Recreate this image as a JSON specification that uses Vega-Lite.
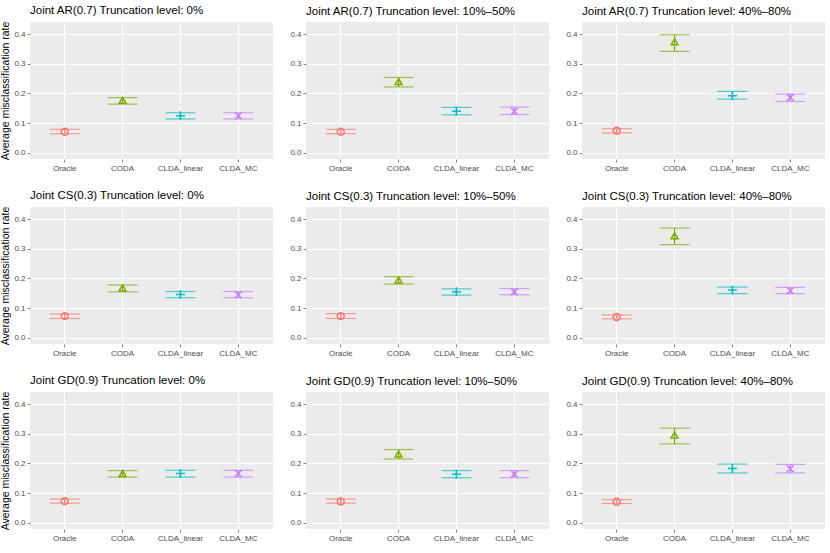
{
  "$schema": "https://vega.github.io/schema/vega-lite/v6.json",
  "description": "Average misclassification rate by method, covariance structure and truncation level.",
  "background": "white",
  "padding": {"left": 0, "top": 4, "right": 4, "bottom": 2},
  "data": {
    "values": [
      {"structure": "AR", "trunc": "0%", "panel": "Joint AR(0.7) Truncation level: 0%", "method": "Oracle", "mean": 0.071, "lo": 0.064, "hi": 0.079},
      {"structure": "AR", "trunc": "0%", "panel": "Joint AR(0.7) Truncation level: 0%", "method": "CODA", "mean": 0.177, "lo": 0.164, "hi": 0.186},
      {"structure": "AR", "trunc": "0%", "panel": "Joint AR(0.7) Truncation level: 0%", "method": "CLDA_linear", "mean": 0.125, "lo": 0.114, "hi": 0.135},
      {"structure": "AR", "trunc": "0%", "panel": "Joint AR(0.7) Truncation level: 0%", "method": "CLDA_MC", "mean": 0.125, "lo": 0.114, "hi": 0.135},
      {"structure": "AR", "trunc": "10%–50%", "panel": "Joint AR(0.7) Truncation level: 10%–50%", "method": "Oracle", "mean": 0.071, "lo": 0.064, "hi": 0.079},
      {"structure": "AR", "trunc": "10%–50%", "panel": "Joint AR(0.7) Truncation level: 10%–50%", "method": "CODA", "mean": 0.240, "lo": 0.222, "hi": 0.254},
      {"structure": "AR", "trunc": "10%–50%", "panel": "Joint AR(0.7) Truncation level: 10%–50%", "method": "CLDA_linear", "mean": 0.140, "lo": 0.128, "hi": 0.153},
      {"structure": "AR", "trunc": "10%–50%", "panel": "Joint AR(0.7) Truncation level: 10%–50%", "method": "CLDA_MC", "mean": 0.140, "lo": 0.129, "hi": 0.154},
      {"structure": "AR", "trunc": "40%–80%", "panel": "Joint AR(0.7) Truncation level: 40%–80%", "method": "Oracle", "mean": 0.074, "lo": 0.067, "hi": 0.081},
      {"structure": "AR", "trunc": "40%–80%", "panel": "Joint AR(0.7) Truncation level: 40%–80%", "method": "CODA", "mean": 0.374, "lo": 0.342, "hi": 0.398},
      {"structure": "AR", "trunc": "40%–80%", "panel": "Joint AR(0.7) Truncation level: 40%–80%", "method": "CLDA_linear", "mean": 0.192, "lo": 0.181, "hi": 0.207},
      {"structure": "AR", "trunc": "40%–80%", "panel": "Joint AR(0.7) Truncation level: 40%–80%", "method": "CLDA_MC", "mean": 0.186, "lo": 0.173, "hi": 0.198},
      {"structure": "CS", "trunc": "0%", "panel": "Joint CS(0.3) Truncation level: 0%", "method": "Oracle", "mean": 0.073, "lo": 0.065, "hi": 0.080},
      {"structure": "CS", "trunc": "0%", "panel": "Joint CS(0.3) Truncation level: 0%", "method": "CODA", "mean": 0.168, "lo": 0.155, "hi": 0.178},
      {"structure": "CS", "trunc": "0%", "panel": "Joint CS(0.3) Truncation level: 0%", "method": "CLDA_linear", "mean": 0.146, "lo": 0.135, "hi": 0.156},
      {"structure": "CS", "trunc": "0%", "panel": "Joint CS(0.3) Truncation level: 0%", "method": "CLDA_MC", "mean": 0.145, "lo": 0.135, "hi": 0.156},
      {"structure": "CS", "trunc": "10%–50%", "panel": "Joint CS(0.3) Truncation level: 10%–50%", "method": "Oracle", "mean": 0.073, "lo": 0.065, "hi": 0.081},
      {"structure": "CS", "trunc": "10%–50%", "panel": "Joint CS(0.3) Truncation level: 10%–50%", "method": "CODA", "mean": 0.195, "lo": 0.181, "hi": 0.206},
      {"structure": "CS", "trunc": "10%–50%", "panel": "Joint CS(0.3) Truncation level: 10%–50%", "method": "CLDA_linear", "mean": 0.155, "lo": 0.144, "hi": 0.165},
      {"structure": "CS", "trunc": "10%–50%", "panel": "Joint CS(0.3) Truncation level: 10%–50%", "method": "CLDA_MC", "mean": 0.155, "lo": 0.145, "hi": 0.166},
      {"structure": "CS", "trunc": "40%–80%", "panel": "Joint CS(0.3) Truncation level: 40%–80%", "method": "Oracle", "mean": 0.070, "lo": 0.064, "hi": 0.077},
      {"structure": "CS", "trunc": "40%–80%", "panel": "Joint CS(0.3) Truncation level: 40%–80%", "method": "CODA", "mean": 0.344, "lo": 0.314, "hi": 0.370},
      {"structure": "CS", "trunc": "40%–80%", "panel": "Joint CS(0.3) Truncation level: 40%–80%", "method": "CLDA_linear", "mean": 0.161, "lo": 0.149, "hi": 0.171},
      {"structure": "CS", "trunc": "40%–80%", "panel": "Joint CS(0.3) Truncation level: 40%–80%", "method": "CLDA_MC", "mean": 0.159, "lo": 0.149, "hi": 0.170},
      {"structure": "GD", "trunc": "0%", "panel": "Joint GD(0.9) Truncation level: 0%", "method": "Oracle", "mean": 0.073, "lo": 0.066, "hi": 0.080},
      {"structure": "GD", "trunc": "0%", "panel": "Joint GD(0.9) Truncation level: 0%", "method": "CODA", "mean": 0.166, "lo": 0.154, "hi": 0.176},
      {"structure": "GD", "trunc": "0%", "panel": "Joint GD(0.9) Truncation level: 0%", "method": "CLDA_linear", "mean": 0.166, "lo": 0.154, "hi": 0.177},
      {"structure": "GD", "trunc": "0%", "panel": "Joint GD(0.9) Truncation level: 0%", "method": "CLDA_MC", "mean": 0.166, "lo": 0.154, "hi": 0.177},
      {"structure": "GD", "trunc": "10%–50%", "panel": "Joint GD(0.9) Truncation level: 10%–50%", "method": "Oracle", "mean": 0.072, "lo": 0.066, "hi": 0.080},
      {"structure": "GD", "trunc": "10%–50%", "panel": "Joint GD(0.9) Truncation level: 10%–50%", "method": "CODA", "mean": 0.232, "lo": 0.215, "hi": 0.247},
      {"structure": "GD", "trunc": "10%–50%", "panel": "Joint GD(0.9) Truncation level: 10%–50%", "method": "CLDA_linear", "mean": 0.164, "lo": 0.152, "hi": 0.176},
      {"structure": "GD", "trunc": "10%–50%", "panel": "Joint GD(0.9) Truncation level: 10%–50%", "method": "CLDA_MC", "mean": 0.164, "lo": 0.152, "hi": 0.176},
      {"structure": "GD", "trunc": "40%–80%", "panel": "Joint GD(0.9) Truncation level: 40%–80%", "method": "Oracle", "mean": 0.071, "lo": 0.065, "hi": 0.078},
      {"structure": "GD", "trunc": "40%–80%", "panel": "Joint GD(0.9) Truncation level: 40%–80%", "method": "CODA", "mean": 0.296, "lo": 0.266, "hi": 0.319},
      {"structure": "GD", "trunc": "40%–80%", "panel": "Joint GD(0.9) Truncation level: 40%–80%", "method": "CLDA_linear", "mean": 0.183, "lo": 0.168, "hi": 0.198},
      {"structure": "GD", "trunc": "40%–80%", "panel": "Joint GD(0.9) Truncation level: 40%–80%", "method": "CLDA_MC", "mean": 0.182, "lo": 0.168, "hi": 0.197}
    ]
  },
  "spacing": 16,
  "hconcat": [
    {
      "transform": [{"filter": "datum.trunc === '0%'"}],
      "facet": {"field": "panel", "type": "nominal", "title": null},
      "columns": 1,
      "bounds": "flush",
      "spacing": 48,
      "resolve": {"axis": {"x": "independent", "y": "independent"}},
      "spec": {
        "width": 243,
        "height": 137,
        "encoding": {
          "x": {"field": "method", "type": "nominal", "sort": ["Oracle", "CODA", "CLDA_linear", "CLDA_MC"], "scale": {"paddingInner": 0, "paddingOuter": 0.1}, "title": null},
          "color": {"field": "method", "type": "nominal", "scale": {"domain": ["Oracle", "CODA", "CLDA_linear", "CLDA_MC"], "range": ["#F8766D", "#7CAE00", "#00BFC4", "#C77CFF"]}, "legend": null}
        },
        "layer": [
          {
            "mark": {"type": "rule", "strokeWidth": 1.2},
            "encoding": {
              "y": {"field": "lo", "type": "quantitative", "scale": {"domain": [-0.021, 0.441], "nice": false, "zero": false}, "title": "Average misclassification rate"},
              "y2": {"field": "hi"}
            }
          },
          {
            "mark": {"type": "tick", "size": 30, "thickness": 1.2},
            "encoding": {"y": {"field": "lo", "type": "quantitative", "title": "Average misclassification rate"}}
          },
          {
            "mark": {"type": "tick", "size": 30, "thickness": 1.2},
            "encoding": {"y": {"field": "hi", "type": "quantitative", "title": "Average misclassification rate"}}
          },
          {
            "mark": {"type": "point", "filled": false, "size": 48, "strokeWidth": 1.5, "opacity": 1},
            "encoding": {
              "y": {"field": "mean", "type": "quantitative", "title": "Average misclassification rate"},
              "shape": {"field": "method", "type": "nominal", "scale": {"domain": ["Oracle", "CODA", "CLDA_linear", "CLDA_MC"], "range": ["circle", "triangle-up", "M-1.3,0L1.3,0M0,-1.3L0,1.3", "M-1,-1L1,1M-1,1L1,-1"]}, "legend": null}
            }
          }
        ]
      }
    },
    {
      "transform": [{"filter": "datum.trunc === '10%–50%'"}],
      "facet": {"field": "panel", "type": "nominal", "title": null},
      "columns": 1,
      "bounds": "flush",
      "spacing": 48,
      "resolve": {"axis": {"x": "independent", "y": "independent"}},
      "spec": {
        "width": 243,
        "height": 137,
        "encoding": {
          "x": {"field": "method", "type": "nominal", "sort": ["Oracle", "CODA", "CLDA_linear", "CLDA_MC"], "scale": {"paddingInner": 0, "paddingOuter": 0.1}, "title": null},
          "color": {"field": "method", "type": "nominal", "scale": {"domain": ["Oracle", "CODA", "CLDA_linear", "CLDA_MC"], "range": ["#F8766D", "#7CAE00", "#00BFC4", "#C77CFF"]}, "legend": null}
        },
        "layer": [
          {
            "mark": {"type": "rule", "strokeWidth": 1.2},
            "encoding": {
              "y": {"field": "lo", "type": "quantitative", "scale": {"domain": [-0.021, 0.441], "nice": false, "zero": false}, "title": null},
              "y2": {"field": "hi"}
            }
          },
          {
            "mark": {"type": "tick", "size": 30, "thickness": 1.2},
            "encoding": {"y": {"field": "lo", "type": "quantitative", "title": null}}
          },
          {
            "mark": {"type": "tick", "size": 30, "thickness": 1.2},
            "encoding": {"y": {"field": "hi", "type": "quantitative", "title": null}}
          },
          {
            "mark": {"type": "point", "filled": false, "size": 48, "strokeWidth": 1.5, "opacity": 1},
            "encoding": {
              "y": {"field": "mean", "type": "quantitative", "title": null},
              "shape": {"field": "method", "type": "nominal", "scale": {"domain": ["Oracle", "CODA", "CLDA_linear", "CLDA_MC"], "range": ["circle", "triangle-up", "M-1.3,0L1.3,0M0,-1.3L0,1.3", "M-1,-1L1,1M-1,1L1,-1"]}, "legend": null}
            }
          }
        ]
      }
    },
    {
      "transform": [{"filter": "datum.trunc === '40%–80%'"}],
      "facet": {"field": "panel", "type": "nominal", "title": null},
      "columns": 1,
      "bounds": "flush",
      "spacing": 48,
      "resolve": {"axis": {"x": "independent", "y": "independent"}},
      "spec": {
        "width": 243,
        "height": 137,
        "encoding": {
          "x": {"field": "method", "type": "nominal", "sort": ["Oracle", "CODA", "CLDA_linear", "CLDA_MC"], "scale": {"paddingInner": 0, "paddingOuter": 0.1}, "title": null},
          "color": {"field": "method", "type": "nominal", "scale": {"domain": ["Oracle", "CODA", "CLDA_linear", "CLDA_MC"], "range": ["#F8766D", "#7CAE00", "#00BFC4", "#C77CFF"]}, "legend": null}
        },
        "layer": [
          {
            "mark": {"type": "rule", "strokeWidth": 1.2},
            "encoding": {
              "y": {"field": "lo", "type": "quantitative", "scale": {"domain": [-0.021, 0.441], "nice": false, "zero": false}, "title": null},
              "y2": {"field": "hi"}
            }
          },
          {
            "mark": {"type": "tick", "size": 30, "thickness": 1.2},
            "encoding": {"y": {"field": "lo", "type": "quantitative", "title": null}}
          },
          {
            "mark": {"type": "tick", "size": 30, "thickness": 1.2},
            "encoding": {"y": {"field": "hi", "type": "quantitative", "title": null}}
          },
          {
            "mark": {"type": "point", "filled": false, "size": 48, "strokeWidth": 1.5, "opacity": 1},
            "encoding": {
              "y": {"field": "mean", "type": "quantitative", "title": null},
              "shape": {"field": "method", "type": "nominal", "scale": {"domain": ["Oracle", "CODA", "CLDA_linear", "CLDA_MC"], "range": ["circle", "triangle-up", "M-1.3,0L1.3,0M0,-1.3L0,1.3", "M-1,-1L1,1M-1,1L1,-1"]}, "legend": null}
            }
          }
        ]
      }
    }
  ],
  "config": {
    "font": "Liberation Sans",
    "view": {"fill": "#EBEBEB", "stroke": null},
    "header": {
      "labelFont": "Liberation Sans",
      "labelFontSize": 11.5,
      "labelColor": "black",
      "labelAnchor": "start",
      "labelAlign": "left",
      "labelPadding": 5
    },
    "axisX": {
      "grid": true,
      "bandPosition": 0.5,
      "gridColor": "white",
      "gridWidth": 1.1,
      "domain": false,
      "labelAngle": 0,
      "labelFontSize": 8,
      "labelColor": "#4D4D4D",
      "labelPadding": 2,
      "tickColor": "#333333",
      "tickSize": 3,
      "tickWidth": 0.6
    },
    "axisY": {
      "values": [0, 0.05, 0.1, 0.15, 0.2, 0.25, 0.3, 0.35, 0.4],
      "labelExpr": "round(datum.value * 100) % 10 == 0 ? format(datum.value, '.1f') : ''",
      "grid": true,
      "gridColor": "white",
      "gridWidth": {"condition": {"test": "round(datum.value * 100) % 10 != 0", "value": 0.55}, "value": 1.1},
      "tickOpacity": {"condition": {"test": "round(datum.value * 100) % 10 != 0", "value": 0}, "value": 1},
      "domain": false,
      "labelFontSize": 8,
      "labelColor": "#4D4D4D",
      "labelPadding": 2,
      "tickColor": "#333333",
      "tickSize": 3,
      "tickWidth": 0.6,
      "titleFontSize": 10.5,
      "titleFontWeight": "normal",
      "titleColor": "black",
      "titlePadding": 3
    }
  }
}
